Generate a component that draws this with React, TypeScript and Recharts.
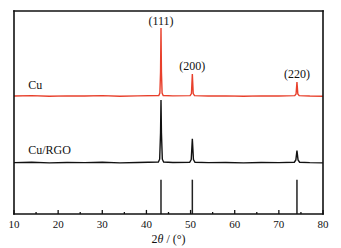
import React from 'react';
import {
  ComposedChart,
  Line,
  XAxis,
  YAxis,
  ReferenceLine,
  ReferenceDot,
  Label,
} from 'recharts';

// 2theta (deg) and intensity (a.u., offset stacked)
const cuTheta = [10, 14, 18, 22, 26, 30, 34, 38, 42.8, 43.05, 43.2, 43.3, 43.4, 43.55, 43.8, 46, 49.9, 50.2, 50.4, 50.6, 50.9, 54, 58, 62, 66, 70, 73.6, 73.9, 74.1, 74.3, 74.6, 77, 80];
const cuIntensity = [58.1, 58.3, 58.0, 58.2, 58.1, 58.3, 58.0, 58.2, 58.4, 59.6, 70, 91.6, 70, 59.6, 58.4, 58.2, 58.3, 59.3, 69, 59.3, 58.3, 58.1, 58.2, 58.0, 58.2, 58.1, 58.3, 59.1, 65, 59.1, 58.3, 58.1, 58.0];

const rgoTheta = [10, 14, 18, 22, 26, 30, 34, 38, 42.7, 43.0, 43.2, 43.3, 43.4, 43.6, 43.9, 46, 49.8, 50.15, 50.4, 50.65, 51.0, 54, 58, 62, 66, 70, 73.5, 73.85, 74.1, 74.35, 74.7, 77, 80];
const rgoIntensity = [25.3, 25.5, 25.2, 25.4, 25.3, 25.5, 25.2, 25.4, 25.6, 27, 40, 56.2, 40, 27, 25.6, 25.4, 25.5, 26.8, 37, 26.8, 25.5, 25.3, 25.4, 25.2, 25.4, 25.3, 25.5, 26.6, 31.2, 26.6, 25.5, 25.3, 25.2];

// standard card (JCPDS) lines
const refTheta = [43.3, 50.4, 74.1];
const refHeight = 16.9;

const peakLabels = ['(111)', '(200)', '(220)'];
const peakTheta = [43.3, 50.4, 74.1];
const peakTop = [91.6, 69, 65];

const majorTicks = [10, 20, 30, 40, 50, 60, 70, 80];
const minorTicks = [15, 25, 35, 45, 55, 65, 75];

const xDomain = [10, 80];
const yDomain = [0, 100];

const toRows = (xs: number[], ys: number[]) => xs.map((x, i) => ({ x, y: ys[i] }));
const cuData = toRows(cuTheta, cuIntensity);
const rgoData = toRows(rgoTheta, rgoIntensity);

const FONT = '"Liberation Serif", "Times New Roman", serif';
const RED = '#e8402c';
const INK = '#111';

const AxisTitle = (props: any) => {
  const { viewBox } = props;
  const cx = viewBox.x + viewBox.width / 2;
  return (
    <text x={cx} y={243} textAnchor="middle" fontFamily={FONT} fontSize={12} fill={INK}>
      2<tspan fontStyle="italic">θ</tspan> / (°)
    </text>
  );
};

const sampleLabel = (text: string, dy: number) => (props: any) => {
  const { viewBox } = props;
  return (
    <text x={viewBox.x} y={viewBox.y - dy} fontFamily={FONT} fontSize={12} fill={INK}>
      {text}
    </text>
  );
};

// frame edges in data coordinates
const [x0, x1] = xDomain;
const [y0, y1] = yDomain;
const frame = [
  [{ x: x0, y: y0 }, { x: x1, y: y0 }],
  [{ x: x0, y: y1 }, { x: x1, y: y1 }],
  [{ x: x0, y: y0 }, { x: x0, y: y1 }],
  [{ x: x1, y: y0 }, { x: x1, y: y1 }],
];

export default function App() {
  return (
    <div style={{ position: 'absolute', left: 0, top: 0 }}>
      <ComposedChart
        width={341}
        height={248}
        margin={{ top: 11, right: 18, left: 14, bottom: 0 }}
      >
        <XAxis
          type="number"
          dataKey="x"
          domain={xDomain}
          ticks={majorTicks}
          height={34}
          tickMargin={0}
          axisLine={false}
          tickLine={false}
          tick={{ fontFamily: FONT, fontSize: 11, fill: INK }}
        >
          <Label content={AxisTitle} />
        </XAxis>
        <YAxis
          type="number"
          domain={yDomain}
          width={0}
          tick={false}
          tickLine={false}
          axisLine={false}
        />

        {/* inward ticks */}
        {majorTicks.map((t) => (
          <ReferenceLine key={'M' + t} segment={[{ x: t, y: 0 }, { x: t, y: 2 }]} stroke={INK} strokeWidth={1.3} />
        ))}
        {minorTicks.map((t) => (
          <ReferenceLine key={'m' + t} segment={[{ x: t, y: 0 }, { x: t, y: 1 }]} stroke={INK} strokeWidth={1.3} />
        ))}

        {refTheta.map((t) => (
          <ReferenceLine
            key={t}
            segment={[{ x: t, y: 0 }, { x: t, y: refHeight }]}
            stroke="#222"
            strokeWidth={1.5}
          />
        ))}

        <Line
          data={rgoData}
          dataKey="y"
          type="linear"
          stroke={INK}
          strokeWidth={1.4}
          dot={false}
          isAnimationActive={false}
        />
        <Line
          data={cuData}
          dataKey="y"
          type="linear"
          stroke={RED}
          strokeWidth={1.4}
          dot={false}
          isAnimationActive={false}
        />

        {/* frame */}
        {frame.map((seg, i) => (
          <ReferenceLine
            key={'f' + i}
            segment={seg}
            stroke={INK}
            strokeWidth={1.6}
            strokeLinecap="square"
            ifOverflow="visible"
          />
        ))}

        {peakLabels.map((lbl, i) => (
          <ReferenceDot
            key={lbl}
            x={peakTheta[i]}
            y={peakTop[i]}
            r={0}
            fill="none"
            stroke="none"
            label={{
              value: lbl,
              position: 'top',
              offset: i === 0 ? 3 : 4,
              fontFamily: FONT,
              fontSize: 12,
              fill: INK,
            }}
          />
        ))}

        <ReferenceDot x={13.2} y={cuIntensity[0]} r={0} fill="none" stroke="none" label={sampleLabel('Cu', 7)} />
        <ReferenceDot x={13.2} y={rgoIntensity[0]} r={0} fill="none" stroke="none" label={sampleLabel('Cu/RGO', 8.5)} />
      </ComposedChart>
    </div>
  );
}
